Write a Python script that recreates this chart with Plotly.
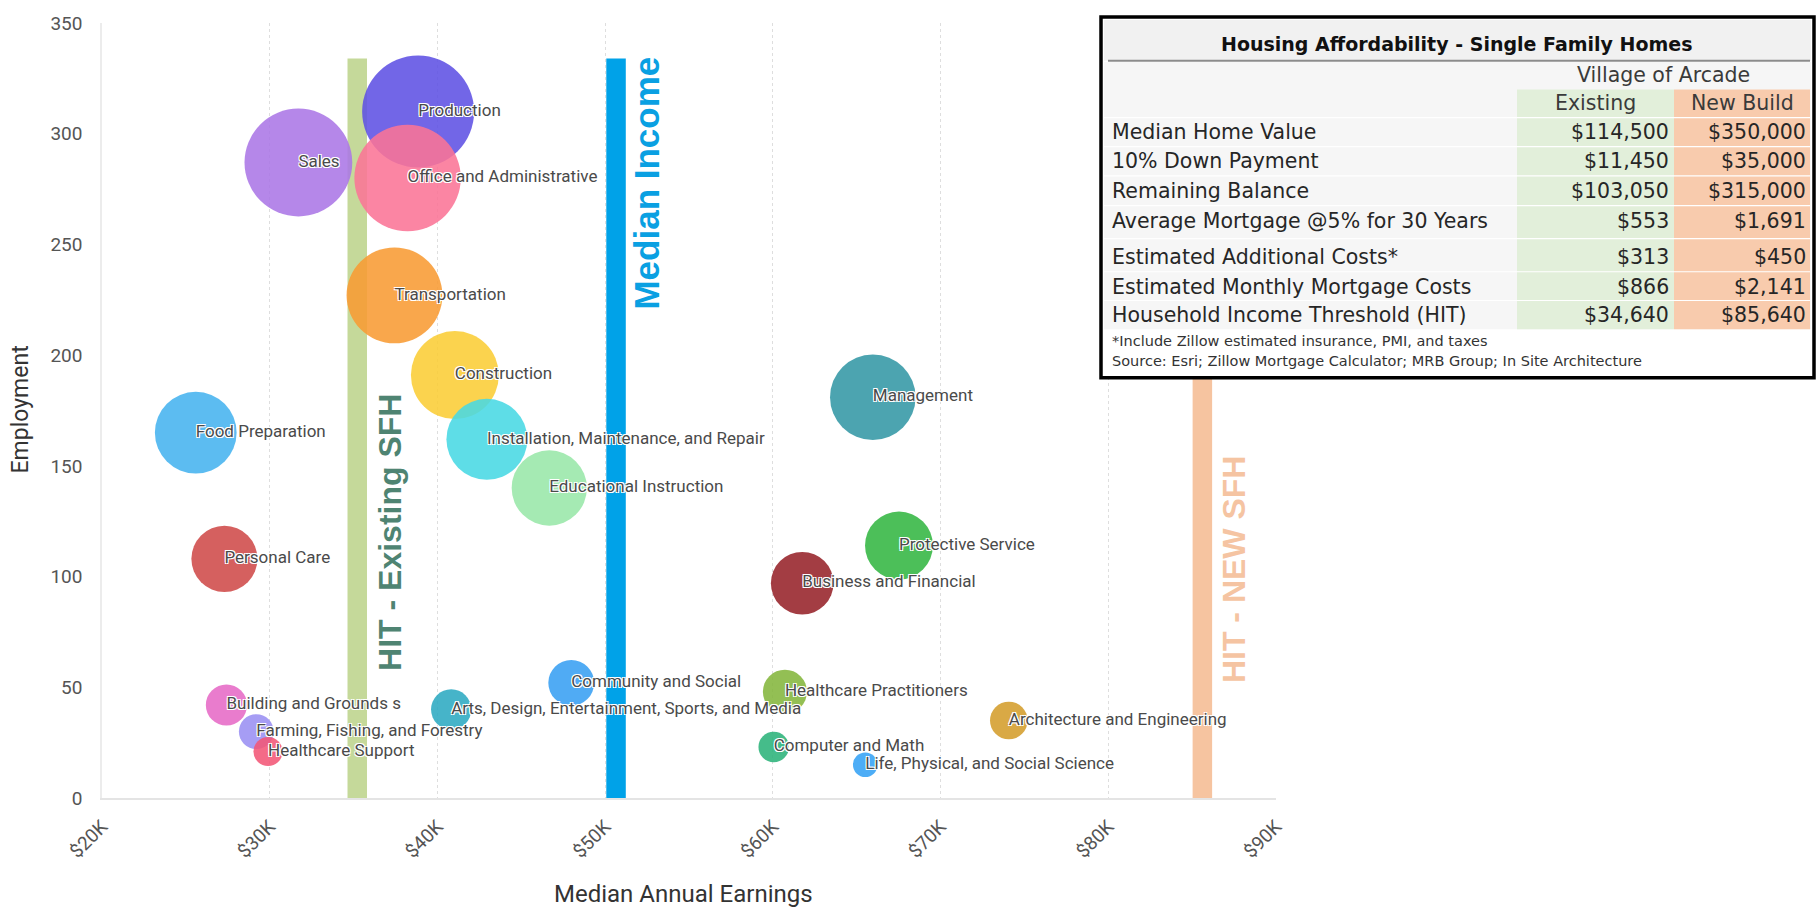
import plotly.graph_objects as go

# ---------------- data ----------------
occupations = [
    "Production", "Sales", "Office and Administrative", "Transportation",
    "Construction", "Management", "Food Preparation",
    "Installation, Maintenance, and Repair", "Educational Instruction",
    "Protective Service", "Personal Care", "Business and Financial",
    "Community and Social", "Healthcare Practitioners", "Building and Grounds s",
    "Arts, Design, Entertainment, Sports, and Media", "Architecture and Engineering",
    "Farming, Fishing, and Forestry", "Computer and Math", "Healthcare Support",
    "Life, Physical, and Social Science",
]
median_earnings = [38850, 31710, 38220, 37440, 41040, 65960, 25590, 42950, 46670,
                   67520, 27300, 61750, 47980, 60720, 27420, 40820, 74070, 29200,
                   60050, 29900, 65510]
employment = [310, 287, 280, 227, 191, 181, 165, 162, 140, 114, 108, 97, 52, 48, 42,
              40, 35, 30, 23, 21, 15]
bubble_colors = ["#5f51e4", "#ab76e6", "#fb7496", "#f89b33", "#fbcd35", "#3397a5",
                 "#45b3ef", "#48d8e4", "#98e7a8", "#33b642", "#cf4a49", "#962229",
                 "#389ff2", "#84b63c", "#e66ac6", "#2caac1", "#d49d2b", "#9a8ff2",
                 "#2bb37a", "#f25676", "#34a2f5"]

x_ticks = [20000, 30000, 40000, 50000, 60000, 70000, 80000, 90000]
x_ticktext = ["$20K", "$30K", "$40K", "$50K", "$60K", "$70K", "$80K", "$90K"]
y_ticks = [0, 50, 100, 150, 200, 250, 300, 350]

ref_names = ["HIT - Existing SFH", "Median Income", "HIT - NEW SFH"]
ref_x = [35220, 50650, 85610]
ref_top = 334

table_title = "Housing Affordability - Single Family Homes"
table_place = "Village of Arcade"
table_cols = ["Existing", "New Build"]
table_labels = ["Median Home Value", "10% Down Payment", "Remaining Balance",
                "Average Mortgage @5% for 30 Years", "Estimated Additional Costs*",
                "Estimated Monthly Mortgage Costs", "Household Income Threshold (HIT)"]
existing_vals = ["$114,500", "$11,450", "$103,050", "$553", "$313", "$866", "$34,640"]
newbuild_vals = ["$350,000", "$35,000", "$315,000", "$1,691", "$450", "$2,141", "$85,640"]
table_notes = ["*Include Zillow estimated insurance, PMI, and taxes",
               "Source: Esri; Zillow Mortgage Calculator; MRB Group; In Site Architecture"]

# ---------------- layout geometry (pixels) ----------------
W, H = 1818, 908
ML, MR, MT, MB = 102, 542, 16, 110
PW, PH = W - ML - MR, H - MT - MB


def px(x):
    return (x - ML) / PW


def py(y):
    return 1 - (y - MT) / PH


# draw bigger bubbles first so small ones sit on top
order = sorted(range(len(employment)), key=lambda i: -employment[i])
xs = [median_earnings[i] for i in order]
ys = [employment[i] for i in order]
cs = [bubble_colors[i] for i in order]
ts = [occupations[i] for i in order]

fig = go.Figure()
fig.add_trace(go.Scatter(
    x=xs, y=ys, mode="markers",
    marker=dict(size=ys, sizemode="area", sizeref=2 * 310 / 112 ** 2,
                color=cs, opacity=0.88, line=dict(width=0)),
    hoverinfo="skip", showlegend=False,
))
fig.add_trace(go.Scatter(
    x=xs, y=ys, mode="text", text=ts, textposition="middle right",
    textfont=dict(family="Roboto", size=17, color="#4a4a4a",
                  shadow="1px 1px 0 #fff, -1px -1px 0 #fff, 1px -1px 0 #fff, -1px 1px 0 #fff"),
    hoverinfo="skip", showlegend=False, cliponaxis=False,
))

# reference bars
ref_colors = ["#c5d99a", "#00a2e8", "#f6c4a0"]
for xv, col in zip(ref_x, ref_colors):
    fig.add_shape(type="line", xref="x", yref="y", x0=xv, x1=xv, y0=0, y1=ref_top,
                  line=dict(color=col, width=19.5), layer="between")

annotations = []
ref_text_pos = [(390, 530.5, 32, "#4f8472"), (647, 178, 35, "#0aa0e2"), (1234, 567, 32, "#f5c4a2")]
for name, (tx, ty, fs, col) in zip(ref_names, ref_text_pos):
    annotations.append(dict(x=px(tx), y=py(ty), xref="paper", yref="paper",
                            text="<b>" + name + "</b>", textangle=-90, showarrow=False,
                            xanchor="center", yanchor="middle",
                            font=dict(family="Liberation Sans", size=fs, color=col)))

# axis titles
annotations.append(dict(x=px(21), y=py(406), xref="paper", yref="paper", text="Employment",
                        textangle=-90, showarrow=False, xanchor="center", yanchor="middle",
                        font=dict(family="Roboto", size=23, color="#333333")))
annotations.append(dict(x=px(683), y=py(895), xref="paper", yref="paper",
                        text="Median Annual Earnings", showarrow=False,
                        xanchor="center", yanchor="middle",
                        font=dict(family="Roboto", size=24, color="#333333")))

# ---------------- table ----------------
shapes_tbl = []
shapes_tbl.append(dict(type="rect", xref="paper", yref="paper", x0=px(1101), x1=px(1814),
                       y0=py(10), y1=py(374), fillcolor="white",
                       line=dict(color="black", width=3.5), layer="above"))
shapes_tbl.append(dict(type="rect", xref="paper", yref="paper", x0=px(1104), x1=px(1811),
                       y0=py(13), y1=py(54), fillcolor="#f1f1f1", line=dict(width=0), layer="above"))
shapes_tbl.append(dict(type="rect", xref="paper", yref="paper", x0=px(1104), x1=px(1811),
                       y0=py(55), y1=py(325), fillcolor="#f6f6f6", line=dict(width=0), layer="above"))
shapes_tbl.append(dict(type="rect", xref="paper", yref="paper", x0=px(1517), x1=px(1674),
                       y0=py(83), y1=py(325), fillcolor="#e2efda", line=dict(width=0), layer="above"))
shapes_tbl.append(dict(type="rect", xref="paper", yref="paper", x0=px(1674), x1=px(1810),
                       y0=py(83), y1=py(325), fillcolor="#f8cbad", line=dict(width=0), layer="above"))
shapes_tbl.append(dict(type="line", xref="paper", yref="paper", x0=px(1108), x1=px(1810),
                       y0=py(54), y1=py(54), line=dict(color="#8c8c8c", width=2), layer="above"))
for sy in [111.5, 140.8, 170.3, 200.3, 233.5, 267, 296]:
    shapes_tbl.append(dict(type="line", xref="paper", yref="paper", x0=px(1104), x1=px(1810),
                           y0=py(sy), y1=py(sy), line=dict(color="#ffffff", width=1.2),
                           layer="above"))
for s in shapes_tbl:
    fig.add_shape(**s)

TF = "DejaVu Sans"
TC = "#262626"
annotations.append(dict(x=px(1457), y=py(37), xref="paper", yref="paper",
                        text="<b>" + table_title + "</b>", showarrow=False,
                        xanchor="center", yanchor="middle", font=dict(family=TF, size=19, color="#111111")))
annotations.append(dict(x=px(1663), y=py(68), xref="paper", yref="paper", text=table_place,
                        showarrow=False, xanchor="center", yanchor="middle",
                        font=dict(family=TF, size=20.5, color="#3a3a3a")))
for cx, lab in zip([1595, 1742], table_cols):
    annotations.append(dict(x=px(cx), y=py(97), xref="paper", yref="paper", text=lab,
                            showarrow=False, xanchor="center", yanchor="middle",
                            font=dict(family=TF, size=20.5, color="#3a3a3a")))
row_y = [126.3, 155.3, 185.3, 215.3, 252, 282, 310.3]
for ry, lab, ev, nv in zip(row_y, table_labels, existing_vals, newbuild_vals):
    annotations.append(dict(x=px(1110), y=py(ry), xref="paper", yref="paper", text=lab,
                            showarrow=False, xanchor="left", yanchor="middle",
                            font=dict(family=TF, size=20.5, color=TC)))
    annotations.append(dict(x=px(1671), y=py(ry), xref="paper", yref="paper", text=ev,
                            showarrow=False, xanchor="right", yanchor="middle",
                            font=dict(family=TF, size=20.5, color=TC)))
    annotations.append(dict(x=px(1808), y=py(ry), xref="paper", yref="paper", text=nv,
                            showarrow=False, xanchor="right", yanchor="middle",
                            font=dict(family=TF, size=20.5, color=TC)))
for ny, note in zip([337, 357.5], table_notes):
    annotations.append(dict(x=px(1110), y=py(ny), xref="paper", yref="paper", text=note,
                            showarrow=False, xanchor="left", yanchor="middle",
                            font=dict(family=TF, size=14.5, color="#333333")))

fig.update_layout(
    width=W, height=H, autosize=False,
    margin=dict(l=ML, r=MR, t=MT, b=MB),
    paper_bgcolor="white", plot_bgcolor="white",
    xaxis=dict(range=[20000, 90000], tickvals=x_ticks, ticktext=x_ticktext, tickangle=-45,
               showgrid=True, gridcolor="#dedede", griddash="3px,3px", gridwidth=1,
               zeroline=False, showline=True, linecolor="#e4e4e4", linewidth=2,
               tickfont=dict(family="Roboto", size=19, color="#555555"),
               ticklabelstandoff=8, fixedrange=True),
    yaxis=dict(range=[0, 350], tickvals=y_ticks, showgrid=False, zeroline=False,
               showline=True, linecolor="#ececec", linewidth=1.5,
               tickfont=dict(family="Roboto", size=19, color="#555555"),
               ticklabelstandoff=14, fixedrange=True),
    annotations=annotations,
    font=dict(family="Roboto"),
)

fig.write_html("out.html")
